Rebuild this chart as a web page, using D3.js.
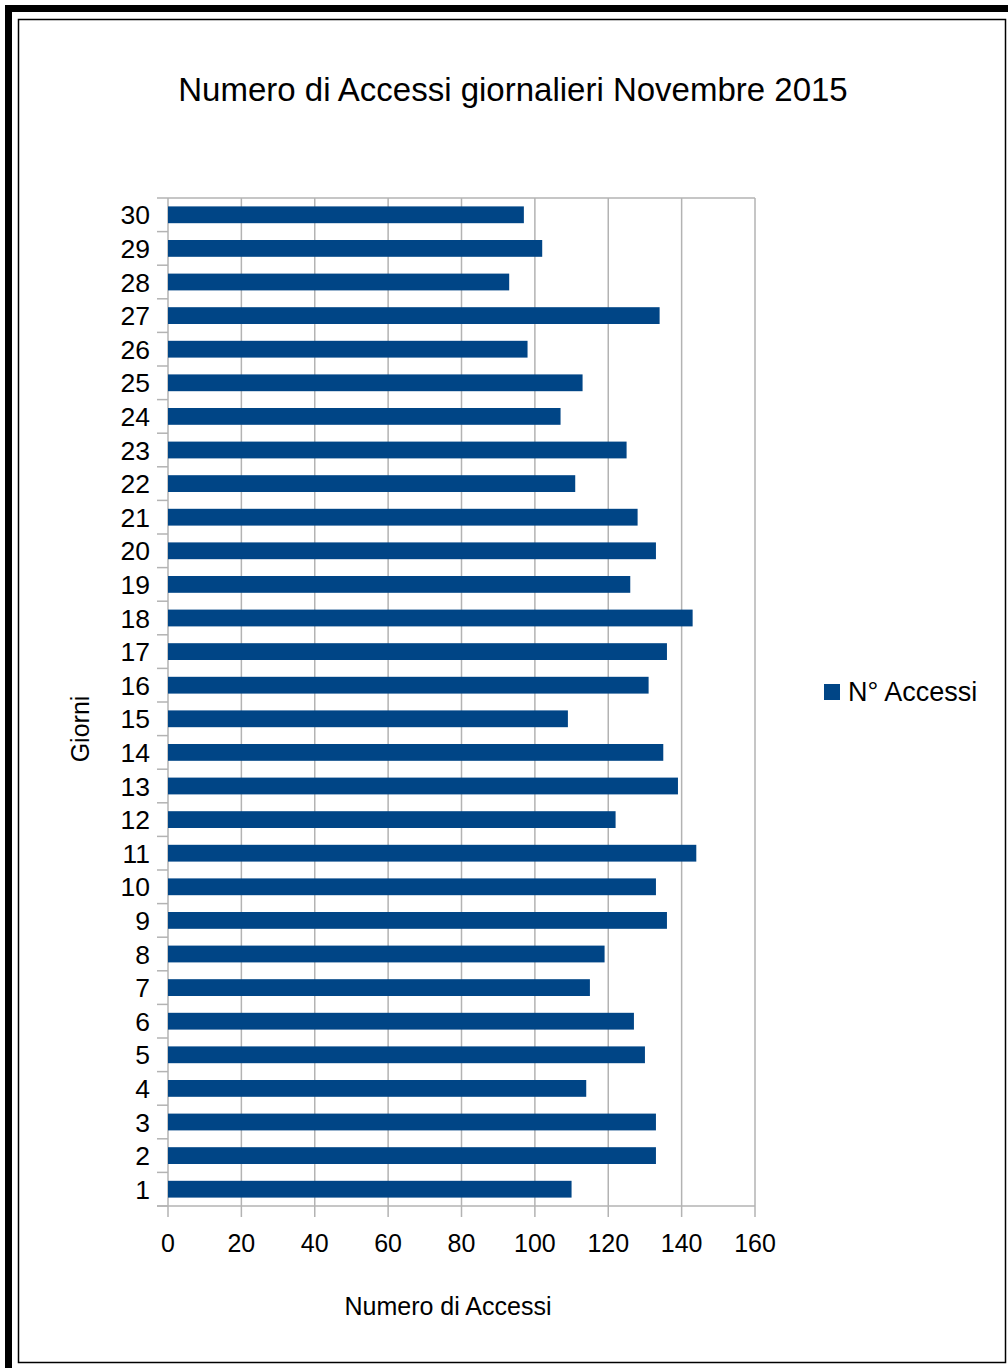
<!DOCTYPE html>
<html>
<head>
<meta charset="utf-8">
<script src="https://cdn.jsdelivr.net/npm/d3@7"></script>
<style>
  html, body { margin: 0; padding: 0; background: #fff; }
  svg { display: block; font-family: "Liberation Sans", Arial, sans-serif; }
</style>
</head>
<body>
<svg id="chart" width="1008" height="1368"></svg>
<script>
// Daily access counts, November 2015
const days = d3.range(1, 31).map(String);
const accessi = [110, 133, 133, 114, 130, 127, 115, 119, 136, 133,
                 144, 122, 139, 135, 109, 131, 136, 143, 126, 133,
                 128, 111, 125, 107, 113, 98, 134, 93, 102, 97];
const xTicks = [0, 20, 40, 60, 80, 100, 120, 140, 160];
const seriesName = "N° Accessi";
const titleText = "Numero di Accessi giornalieri Novembre 2015";
const xTitle = "Numero di Accessi";
const yTitle = "Giorni";

const svg = d3.select("#chart");
const barColor = "#004586";
const gridColor = "#b3b3b3";

// page frame: heavy edge on top/left, thin rectangle inside
svg.append("rect").attr("x", 5).attr("y", 5).attr("width", 1003).attr("height", 7).attr("fill", "#000");
svg.append("rect").attr("x", 5).attr("y", 5).attr("width", 7).attr("height", 1363).attr("fill", "#000");
svg.append("rect").attr("x", 18.5).attr("y", 19.5).attr("width", 987).attr("height", 1343)
  .attr("fill", "none").attr("stroke", "#000").attr("stroke-width", 1.5);

const plot = { left: 168, top: 198, right: 755, bottom: 1206 };

const x = d3.scaleLinear().domain([0, 160]).range([plot.left, plot.right]);
const y = d3.scaleBand().domain(days.slice().reverse()).range([plot.top, plot.bottom])
  .paddingInner(0.5).paddingOuter(0.25);
const yBounds = d3.scaleLinear().domain([0, days.length]).range([plot.bottom, plot.top]);

// vertical grid lines
svg.append("g").selectAll("line").data(xTicks).join("line")
  .attr("x1", d => x(d)).attr("x2", d => x(d))
  .attr("y1", plot.top).attr("y2", plot.bottom + 11)
  .attr("stroke", gridColor).attr("stroke-width", 1.5);

// plot border top
svg.append("line").attr("x1", plot.left).attr("x2", plot.right)
  .attr("y1", plot.top).attr("y2", plot.top).attr("stroke", gridColor).attr("stroke-width", 1.5);

// category ticks on the left
svg.append("g").selectAll("line").data(d3.range(0, days.length + 1)).join("line")
  .attr("x1", plot.left - 11).attr("x2", plot.left)
  .attr("y1", d => yBounds(d)).attr("y2", d => yBounds(d))
  .attr("stroke", gridColor).attr("stroke-width", 1.5);

// bottom axis line
svg.append("line").attr("x1", plot.left - 11).attr("x2", plot.right)
  .attr("y1", plot.bottom).attr("y2", plot.bottom).attr("stroke", gridColor).attr("stroke-width", 1.5);

// bars
svg.append("g").selectAll("rect").data(days).join("rect")
  .attr("x", x(0))
  .attr("y", d => y(d))
  .attr("width", (d, i) => x(accessi[i]) - x(0))
  .attr("height", y.bandwidth())
  .attr("fill", barColor);

// y labels
svg.append("g").selectAll("text").data(days).join("text")
  .attr("x", 150)
  .attr("y", d => y(d) + y.bandwidth() / 2)
  .attr("dy", "0.36em")
  .attr("text-anchor", "end")
  .attr("font-size", 26.5)
  .attr("fill", "#000")
  .text(d => d);

// x labels
svg.append("g").selectAll("text").data(xTicks).join("text")
  .attr("x", d => x(d))
  .attr("y", 1252)
  .attr("text-anchor", "middle")
  .attr("font-size", 25)
  .attr("fill", "#000")
  .text(d => d);

// titles
svg.append("text").attr("x", 513).attr("y", 101).attr("text-anchor", "middle")
  .attr("font-size", 33).attr("fill", "#000").text(titleText);
svg.append("text").attr("x", 448).attr("y", 1315).attr("text-anchor", "middle")
  .attr("font-size", 25).attr("fill", "#000").text(xTitle);
svg.append("text").attr("transform", "translate(89,729) rotate(-90)").attr("text-anchor", "middle")
  .attr("font-size", 25).attr("fill", "#000").text(yTitle);

// legend
svg.append("rect").attr("x", 824).attr("y", 684).attr("width", 16).attr("height", 16).attr("fill", barColor);
svg.append("text").attr("x", 848).attr("y", 701).attr("font-size", 27).attr("fill", "#000").text(seriesName);
</script>
</body>
</html>
